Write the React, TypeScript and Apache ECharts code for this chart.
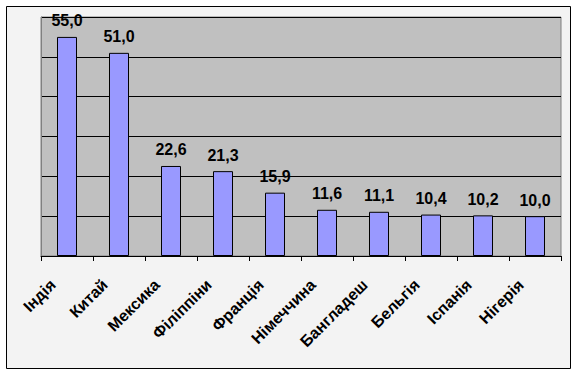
import React, { useEffect, useRef } from "react";
import * as echarts from "echarts";

const categories = ["Індія", "Китай", "Мексика", "Філіппіни", "Франція", "Німеччина", "Бангладеш", "Бельгія", "Іспанія", "Нігерія"];
const values = [55.0, 51.0, 22.6, 21.3, 15.9, 11.6, 11.1, 10.4, 10.2, 10.0];

export default function App() {
  const ref = useRef<HTMLDivElement>(null);
  useEffect(() => {
    document.body.style.margin = "0";
    const chart = echarts.init(ref.current!, null, { renderer: "svg" });
    chart.setOption({
      animation: false,
      backgroundColor: "#ffffff",
      graphic: [
        {
          type: "rect",
          z: -10,
          shape: { x: 6.5, y: 6.5, width: 564, height: 362 },
          style: { fill: "#f3f3f3", stroke: "#000000", lineWidth: 1 },
        },
      ],
      grid: {
        left: 41,
        top: 17,
        right: 16,
        bottom: 120,
        show: true,
        backgroundColor: "#c0c0c0",
        borderColor: "#808080",
        borderWidth: 1,
      },
      xAxis: {
        type: "category",
        data: categories,
        axisLine: { show: true, lineStyle: { color: "#000", width: 1 } },
        axisTick: { show: true, alignWithLabel: false, length: 5, lineStyle: { color: "#000" } },
        axisLabel: {
          rotate: 45,
          interval: 0,
          color: "#000",
          fontFamily: "Liberation Sans, Arial, sans-serif",
          fontWeight: "bold",
          fontSize: 16,
          margin: 12,
          padding: [0, 20, 0, 0],
        },
      },
      yAxis: {
        type: "value",
        min: 0,
        max: 60,
        interval: 10,
        axisLabel: { show: false },
        axisLine: { show: true, lineStyle: { color: "#808080" } },
        axisTick: { show: false },
        splitLine: { show: true, lineStyle: { color: "#000", width: 1 } },
      },
      series: [
        {
          type: "bar",
          data: values,
          barWidth: 20,
          itemStyle: { color: "#9999ff", borderColor: "#000", borderWidth: 1 },
          label: {
            show: true,
            position: "top",
            distance: 8,
            color: "#000",
            fontFamily: "Liberation Sans, Arial, sans-serif",
            fontWeight: "bold",
            fontSize: 16,
            formatter: (p: any) => p.value.toFixed(1).replace(".", ","),
          },
        },
      ],
    });
    return () => chart.dispose();
  }, []);
  return <div ref={ref} style={{ position: "fixed", left: 0, top: 0, width: 577, height: 376 }} />;
}
